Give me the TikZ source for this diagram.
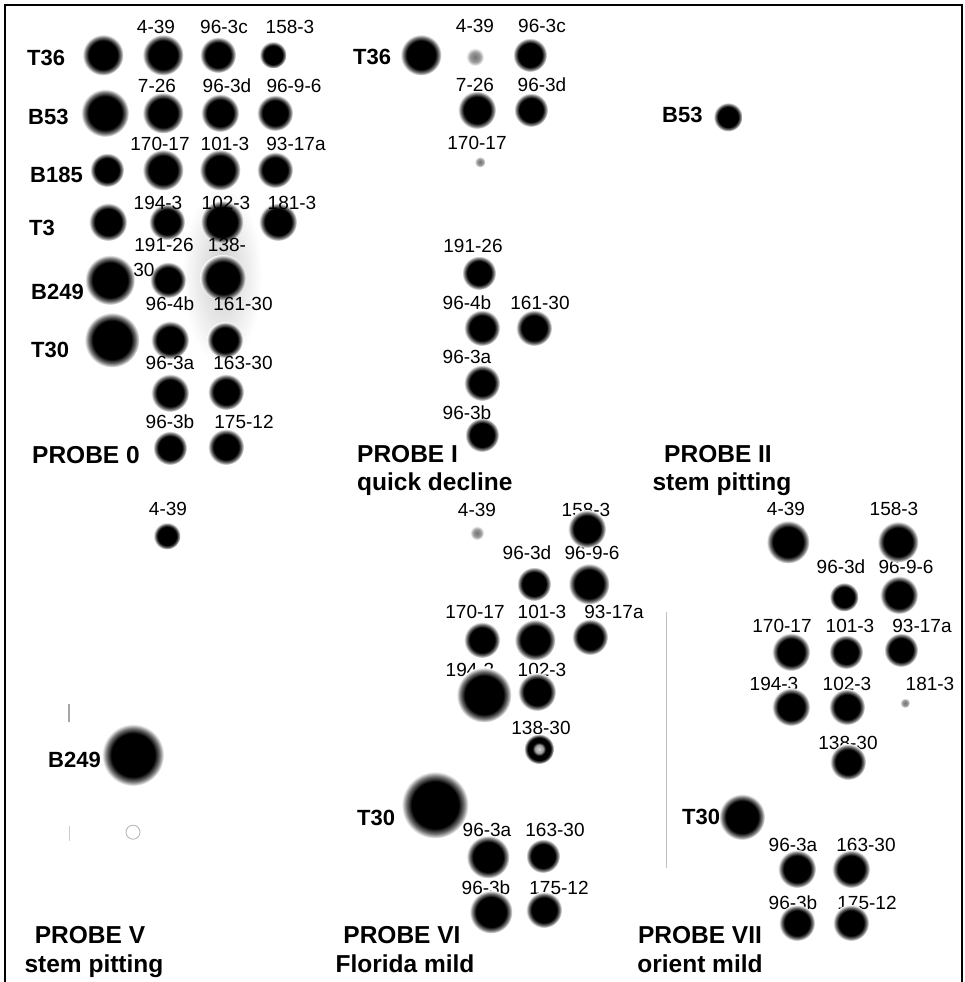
\documentclass[tikz,border=0pt]{standalone}
\usepackage{fontspec}
\setmainfont{Liberation Sans}
\usepackage{tikz}
\pgfdeclareradialshading{blot}{\pgfpoint{0bp}{0bp}}{color(0bp)=(black); color(17.5bp)=(black); color(21.5bp)=(black!55); color(25bp)=(white); color(50bp)=(white)}
\pgfdeclareradialshading{paleblot}{\pgfpoint{0bp}{0bp}}{color(0bp)=(black!55); color(14bp)=(black!40); color(25bp)=(white); color(50bp)=(white)}
\pgfdeclareradialshading{ringblot}{\pgfpoint{0bp}{0bp}}{color(0bp)=(black!15); color(7bp)=(black!40); color(11bp)=(black); color(19bp)=(black); color(22.5bp)=(black!50); color(25bp)=(white); color(50bp)=(white)}
\tikzstyle{dot}=[circle, inner sep=0pt, shade, shading=blot]
\tikzstyle{pale}=[circle, inner sep=0pt, shade, shading=paleblot]
\tikzstyle{ringdot}=[circle, inner sep=0pt, shade, shading=ringblot]
\tikzstyle{lab}=[inner sep=0pt, font=\fontsize{19}{19}\selectfont]
\tikzstyle{strain}=[inner sep=0pt, anchor=west, font=\fontsize{22}{22}\selectfont\bfseries]
\tikzstyle{probe}=[inner sep=0pt, anchor=base, font=\fontsize{24.5}{24.5}\selectfont\bfseries]
\tikzstyle{smear}=[black!35, line width=1.2pt]

\begin{document}
\begin{tikzpicture}[x=1pt, y=-1pt]
            \useasboundingbox (0,0) rectangle (964,982);
            \draw[line width=2pt] (5,982) -- (5,5) -- (962,5) -- (962,982);
            \shade[inner color=black!20, outer color=white] (222,275) ellipse (40 and 90);

            \node[strain] (aT36) at (27,58) {T36};
            \node[strain] (aB53) at (28,117) {B53};
            \node[strain] (aB185) at (30,175) {B185};
            \node[strain] (aT3) at (29,228) {T3};
            \node[strain] (aB249) at (31,292) {B249};
            \node[strain] (aT30) at (31,350) {T30};
            \node[dot, minimum size=41] (A1) at (103,55) {};
            \node[dot, minimum size=41] (A2) at (163,55) {};
            \node[dot, minimum size=36] (A3) at (218,55) {};
            \node[dot, minimum size=27] (A4) at (273,55) {};
            \node[dot, minimum size=48] (A5) at (105,113) {};
            \node[dot, minimum size=41] (A6) at (163,113) {};
            \node[dot, minimum size=38] (A7) at (220,113) {};
            \node[dot, minimum size=36] (A8) at (275,113) {};
            \node[dot, minimum size=34] (A9) at (107,170) {};
            \node[dot, minimum size=41] (A10) at (163,170) {};
            \node[dot, minimum size=41] (A11) at (220,170) {};
            \node[dot, minimum size=36] (A12) at (275,170) {};
            \node[dot, minimum size=38] (A13) at (108,222) {};
            \node[dot, minimum size=36] (A14) at (167,222) {};
            \node[dot, minimum size=43] (A15) at (222,222) {};
            \node[dot, minimum size=38] (A16) at (278,222) {};
            \node[dot, minimum size=50] (A17) at (110,280) {};
            \node[dot, minimum size=36] (A18) at (168,280) {};
            \node[dot, minimum size=46] (A19) at (223,278) {};
            \node[dot, minimum size=55] (A20) at (112,340) {};
            \node[dot, minimum size=38] (A21) at (170,340) {};
            \node[dot, minimum size=36] (A22) at (225,340) {};
            \node[dot, minimum size=38] (A23) at (170,393) {};
            \node[dot, minimum size=36] (A24) at (226,392) {};
            \node[dot, minimum size=34] (A25) at (170,448) {};
            \node[dot, minimum size=36] (A26) at (226,447) {};
            \node[lab] (a1) at (156,27) {4-39};
            \node[lab] (a2) at (224,27) {96-3c};
            \node[lab] (a3) at (290,27) {158-3};
            \node[lab] (a4) at (157,86) {7-26};
            \node[lab] (a5) at (227,86) {96-3d};
            \node[lab] (a6) at (294,86) {96-9-6};
            \node[lab] (a7) at (160,144) {170-17};
            \node[lab] (a8) at (225,144) {101-3};
            \node[lab] (a9) at (296,144) {93-17a};
            \node[lab] (a10) at (158,203) {194-3};
            \node[lab] (a11) at (226,203) {102-3};
            \node[lab] (a12) at (292,203) {181-3};
            \node[lab] (a13) at (164,245) {191-26};
            \node[lab] (a14) at (227,245) {138-};
            \node[lab] (a15) at (144,270) {30};
            \node[lab] (a16) at (170,304) {96-4b};
            \node[lab] (a17) at (243,304) {161-30};
            \node[lab] (a18) at (170,363) {96-3a};
            \node[lab] (a19) at (243,363) {163-30};
            \node[lab] (a20) at (170,422) {96-3b};
            \node[lab] (a21) at (244,422) {175-12};
            \node[probe, anchor=base west] (pA) at (32,463) {PROBE 0};

            \node[strain] (bT36) at (353,57) {T36};
            \node[dot, minimum size=41] (B1) at (421,55) {};
            \node[pale, minimum size=18] (B2) at (475,57) {};
            \node[dot, minimum size=34] (B3) at (530,55) {};
            \node[dot, minimum size=38] (B4) at (477,110) {};
            \node[dot, minimum size=34] (B5) at (531,110) {};
            \node[pale, minimum size=11] (B6) at (480,162) {};
            \node[dot, minimum size=34] (B7) at (479,273) {};
            \node[dot, minimum size=36] (B8) at (482,328) {};
            \node[dot, minimum size=36] (B9) at (534,328) {};
            \node[dot, minimum size=36] (B10) at (482,383) {};
            \node[dot, minimum size=34] (B11) at (482,435) {};
            \node[lab] (b1) at (475,26) {4-39};
            \node[lab] (b2) at (542,26) {96-3c};
            \node[lab] (b3) at (475,85) {7-26};
            \node[lab] (b4) at (542,85) {96-3d};
            \node[lab] (b5) at (477,143) {170-17};
            \node[lab] (b6) at (473,246) {191-26};
            \node[lab] (b7) at (467,303) {96-4b};
            \node[lab] (b8) at (540,303) {161-30};
            \node[lab] (b9) at (467,357) {96-3a};
            \node[lab] (b10) at (467,413) {96-3b};
            \node[probe, anchor=base west] (pB) at (357,462) {PROBE I};
            \node[probe, anchor=base west] (qB) at (357,490) {quick decline};

            \node[strain] (cB53) at (662,115) {B53};
            \node[dot, minimum size=29] (C1) at (728,117) {};
            \node[probe] (pC) at (718,462) {PROBE II};
            \node[probe] (qC) at (722,490) {stem pitting};

            \node[lab] (d1) at (168,509) {4-39};
            \node[dot, minimum size=27] (D1) at (167,536) {};
            \node[strain] (dB249) at (48,760) {B249};
            \node[dot, minimum size=62] (D2) at (133,755) {};
            \draw[black!30, line width=0.8pt] (D2.south) ++(0,46) circle (7);
            \draw[smear] (69,704) -- (69,722);
            \draw[black!20, line width=1pt] (69,826) -- (69,841);
            \node[probe] (pD) at (90,943) {PROBE V};
            \node[probe] (qD) at (94,972) {stem pitting};

            \node[lab] (e1) at (477,510) {4-39};
            \node[lab] (e2) at (586,510) {158-3};
            \node[lab] (e3) at (527,553) {96-3d};
            \node[lab] (e4) at (592,553) {96-9-6};
            \node[lab] (e5) at (475,612) {170-17};
            \node[lab] (e6) at (542,612) {101-3};
            \node[lab] (e7) at (614,612) {93-17a};
            \node[lab] (e8) at (470,670) {194-3};
            \node[lab] (e9) at (542,670) {102-3};
            \node[lab] (e10) at (541,728) {138-30};
            \node[strain] (eT30) at (357,818) {T30};
            \node[lab] (e11) at (487,830) {96-3a};
            \node[lab] (e12) at (555,830) {163-30};
            \node[lab] (e13) at (486,888) {96-3b};
            \node[lab] (e14) at (559,888) {175-12};
            \node[pale, minimum size=14] (E1) at (477,533) {};
            \node[dot, minimum size=38] (E2) at (587,529) {};
            \node[dot, minimum size=34] (E3) at (534,584) {};
            \node[dot, minimum size=41] (E4) at (589,584) {};
            \node[dot, minimum size=36] (E5) at (482,640) {};
            \node[dot, minimum size=41] (E6) at (535,640) {};
            \node[dot, minimum size=36] (E7) at (590,637) {};
            \node[dot, minimum size=55] (E8) at (484,695) {};
            \node[dot, minimum size=38] (E9) at (537,692) {};
            \node[ringdot, minimum size=30] (E10) at (539,749) {};
            \node[dot, minimum size=67] (E11) at (435,805) {};
            \node[dot, minimum size=43] (E12) at (488,857) {};
            \node[dot, minimum size=34] (E13) at (543,856) {};
            \node[dot, minimum size=43] (E14) at (491,912) {};
            \node[dot, minimum size=36] (E15) at (544,910) {};
            \node[probe] (pE) at (402,943) {PROBE VI};
            \node[probe] (qE) at (405,972) {Florida mild};

            \draw[black!25, line width=1pt] (666,612) -- (666,868);
            \node[lab] (f1) at (786,509) {4-39};
            \node[lab] (f2) at (894,509) {158-3};
            \node[lab] (f3) at (841,567) {96-3d};
            \node[lab] (f4) at (906,567) {96-9-6};
            \node[lab] (f5) at (782,626) {170-17};
            \node[lab] (f6) at (850,626) {101-3};
            \node[lab] (f7) at (922,626) {93-17a};
            \node[lab] (f8) at (774,684) {194-3};
            \node[lab] (f9) at (847,684) {102-3};
            \node[lab] (f10) at (930,684) {181-3};
            \node[lab] (f11) at (848,743) {138-30};
            \node[strain] (fT30) at (682,817) {T30};
            \node[lab] (f12) at (793,845) {96-3a};
            \node[lab] (f13) at (866,845) {163-30};
            \node[lab] (f14) at (793,903) {96-3b};
            \node[lab] (f15) at (867,903) {175-12};
            \node[dot, minimum size=43] (F1) at (788,542) {};
            \node[dot, minimum size=41] (F2) at (898,542) {};
            \node[dot, minimum size=29] (F3) at (844,597) {};
            \node[dot, minimum size=38] (F4) at (899,595) {};
            \node[dot, minimum size=38] (F5) at (791,652) {};
            \node[dot, minimum size=34] (F6) at (846,652) {};
            \node[dot, minimum size=34] (F7) at (901,650) {};
            \node[dot, minimum size=38] (F8) at (791,707) {};
            \node[dot, minimum size=36] (F9) at (847,707) {};
            \node[pale, minimum size=10] (F10) at (905,703) {};
            \node[dot, minimum size=36] (F11) at (848,762) {};
            \node[dot, minimum size=46] (F12) at (742,817) {};
            \node[dot, minimum size=38] (F13) at (797,869) {};
            \node[dot, minimum size=38] (F14) at (851,869) {};
            \node[dot, minimum size=36] (F15) at (797,923) {};
            \node[dot, minimum size=36] (F16) at (851,923) {};
            \node[probe] (pF) at (700,943) {PROBE VII};
            \node[probe] (qF) at (700,972) {orient mild};
        \end{tikzpicture}
\end{document}
